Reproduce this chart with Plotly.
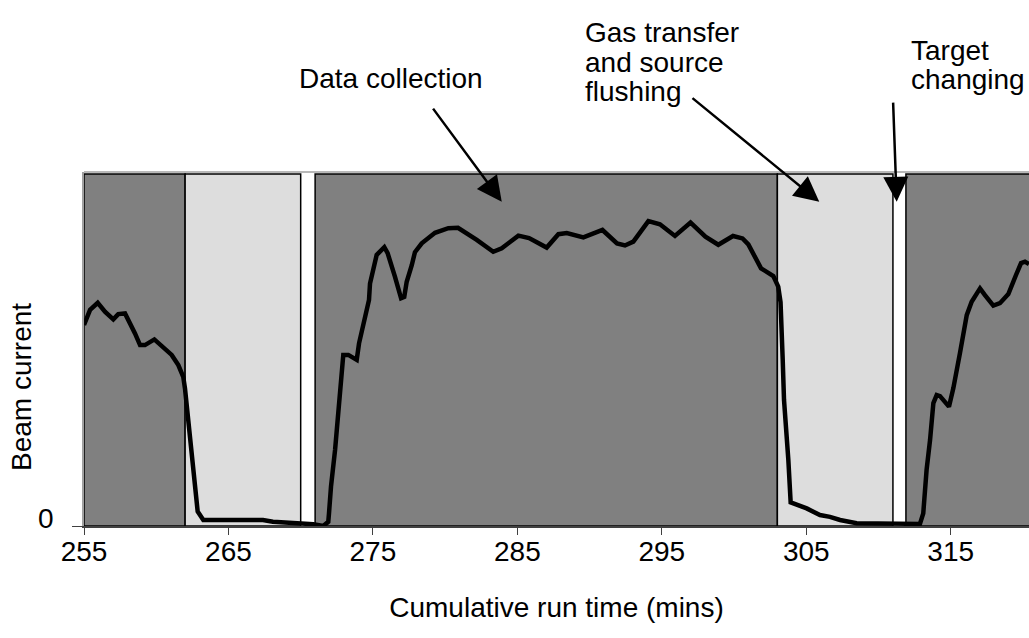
import plotly.graph_objects as go

# ---- data ----
time_min = [255.0, 255.42, 255.95, 256.45, 257.03, 257.37, 257.84, 258.07, 258.53, 258.88,
            259.22, 259.87, 260.49, 261.07, 261.53, 261.87, 261.99, 262.34, 262.68, 262.87,
            263.26, 267.39, 268.08, 269.75, 270.87, 271.57, 271.91, 271.96, 272.10, 272.38,
            272.84, 272.95, 273.30, 273.88, 274.04, 274.73, 274.80, 275.26, 275.79, 276.02,
            276.53, 276.95, 277.17, 277.34, 277.69, 277.91, 278.38, 279.30, 280.22, 280.89,
            282.19, 283.33, 283.92, 285.07, 285.81, 287.03, 287.84, 288.42, 289.57, 290.89,
            291.90, 292.45, 293.03, 294.07, 294.87, 295.91, 296.99, 298.02, 298.91, 299.93,
            300.59, 300.99, 301.87, 302.72, 303.06, 303.22, 303.37, 303.46, 303.76, 303.92,
            305.03, 305.95, 306.64, 307.34, 308.49, 312.87, 313.10, 313.33, 313.57, 313.80,
            314.03, 314.26, 314.88, 315.18, 315.64, 316.11, 316.45, 317.03, 317.37, 317.95,
            318.41, 318.99, 319.52, 319.87, 320.14, 320.42]
beam_current = [57.1, 61.4, 63.4, 60.9, 58.7, 60.2, 60.4, 58.7, 54.7, 51.4,
                51.4, 53.0, 50.9, 48.6, 45.7, 42.4, 39.1, 24.4, 12.1, 4.1,
                1.7, 1.7, 1.2, 0.8, 0.5, 0.0, 1.2, 3.6, 11.2, 21.6,
                45.3, 48.6, 48.6, 47.2, 51.9, 64.2, 68.9, 77.0, 79.2, 77.5,
                70.8, 64.7, 65.1, 69.4, 74.1, 77.8, 80.3, 83.3, 84.6, 84.7,
                81.3, 77.9, 78.9, 82.5, 81.8, 79.1, 82.9, 83.2, 82.0, 84.1,
                80.3, 79.7, 80.8, 86.6, 85.7, 82.4, 86.2, 82.2, 79.9, 82.4,
                81.7, 80.0, 73.2, 71.0, 68.0, 63.6, 47.2, 35.8, 18.8, 6.7,
                5.0, 3.1, 2.6, 1.7, 0.8, 0.6, 3.6, 15.9, 24.4, 34.9,
                37.2, 36.9, 33.9, 39.1, 49.1, 59.9, 63.7, 67.5, 65.6, 62.6,
                63.3, 65.9, 71.3, 74.7, 75.1, 74.4]

# run phases: data collection (dark) / gas transfer & flushing (light)
phase_start = [255, 262, 271, 303, 311.9]
phase_end = [262, 270, 303, 311, 321]
phase_kind = ["data", "gas", "data", "gas", "data"]
phase_top = 100

x_ticks = [255, 265, 275, 285, 295, 305, 315]
x_range = [255, 320.42]
y_range = [0, 100.57]

# text
data_label = "Data collection"
gas_label_lines = ["Gas transfer", "and source", "flushing"]
target_label_lines = ["Target", "changing"]
x_title = "Cumulative run time (mins)"
y_title = "Beam current"

FONT = "Liberation Sans, Arial, sans-serif"
FS = 28
fill_of = {"data": "#808080", "gas": "#DDDDDD"}

fig = go.Figure()

shapes = []
for s, e, k in zip(phase_start, phase_end, phase_kind):
    shapes.append(dict(type="rect", xref="x", yref="y", x0=s, x1=e, y0=0, y1=phase_top,
                       fillcolor=fill_of[k], line=dict(color="black", width=1.5), layer="below"))
# light grey top frame line
shapes.append(dict(type="line", xref="paper", yref="paper", x0=0, x1=1, y0=1, y1=1,
                   line=dict(color="#A0A0A0", width=1.5), layer="below"))

fig.add_trace(go.Scatter(x=time_min, y=beam_current, mode="lines",
                         line=dict(color="black", width=4.5), showlegend=False,
                         hoverinfo="x+y"))

def txt(t, x, y, xanchor, angle=0):
    return dict(text=t, xref="paper", yref="paper", x=x, y=y, xanchor=xanchor,
                yanchor="middle", align="left", showarrow=False, textangle=angle,
                font=dict(size=FS, color="black", family=FONT))

annotations = [txt(data_label, 0.3249, 1.2655, "center")]
for line, yy in zip(gas_label_lines, [1.3927, 1.3107, 1.2288]):
    annotations.append(txt(line, 0.528, yy, "left"))
for line, yy in zip(target_label_lines, [1.3446, 1.2599]):
    annotations.append(txt(line, 0.8735, yy, "left"))
# y-axis title (placed like the original, below the axis centre)
annotations.append(txt(y_title, -0.0656, 0.3927, "center", angle=-90))

arrows = [((283.92, 92.1), (279.09, 119.0)),
          ((305.90, 92.1), (297.02, 121.9)),
          ((311.26, 92.1), (311.01, 120.7))]
for (tx, ty), (axx, ayy) in arrows:
    annotations.append(dict(text="", x=tx, y=ty, xref="x", yref="y",
                            ax=axx, ay=ayy, axref="x", ayref="y",
                            showarrow=True, arrowhead=2, arrowsize=2.0,
                            arrowwidth=2.5, arrowcolor="black", standoff=0))

fig.update_layout(
    width=1029, height=638,
    margin=dict(l=84, r=0, t=172, b=112, autoexpand=False),
    paper_bgcolor="white", plot_bgcolor="white",
    font=dict(family=FONT, size=FS, color="black"),
    shapes=shapes, annotations=annotations,
    xaxis=dict(range=x_range, tickvals=x_ticks, ticks="outside", ticklen=7,
               tickcolor="#404040", showline=True, linecolor="#404040", linewidth=1.5,
               showgrid=False, zeroline=False, tickfont=dict(size=FS),
               ticklabelstandoff=-7,
               title=dict(text=x_title, standoff=31,
                          font=dict(size=FS, family=FONT))),
    yaxis=dict(range=y_range, tickvals=[0], ticktext=["0"], ticks="outside", ticklen=10,
               tickcolor="#404040", showline=True, linecolor="#A0A0A0", linewidth=1.5,
               showgrid=False, zeroline=False, tickfont=dict(size=FS),
               ticklabelstandoff=13, ticklabelshift=-8),
)

# remove the default page margin so the 1029x638 figure fills the window exactly
fig.write_html("out.html",
               config={"displayModeBar": False},
               post_script="document.body.style.margin='0';document.body.style.overflow='hidden';")
